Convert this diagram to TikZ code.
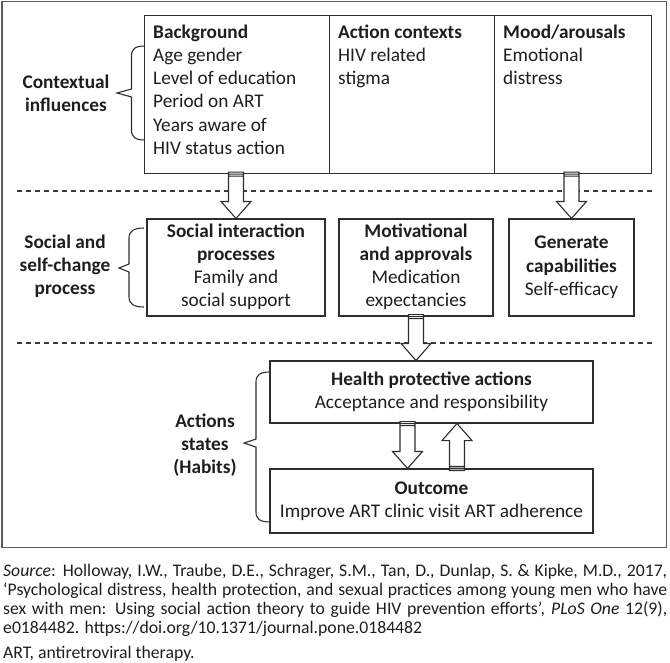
\documentclass[tikz,border=0pt]{standalone}
\usepackage{fontspec}
\setmainfont{Carlito}
\usetikzlibrary{calc}
\definecolor{ink}{HTML}{1E1E1E}
\definecolor{boxc}{HTML}{2E2E2E}
\definecolor{framec}{HTML}{5A5A5A}
\definecolor{dashc}{HTML}{3C3C3C}
% #1 tail point, #2 tip point, #3 = 1 for a downward arrow, -1 for an upward one
\newcommand{\blockarrow}[3]{%
  \draw[arr] let \p1=(#1), \p2=(#2) in
    ({\x1-7.5pt},{\y1+(#3)*2pt}) -- ({\x1-7.5pt},{\y2+(#3)*17pt}) -- ({\x1-15pt},{\y2+(#3)*17pt})
    -- (\x1,\y2) -- ({\x1+15pt},{\y2+(#3)*17pt}) -- ({\x1+7.5pt},{\y2+(#3)*17pt})
    -- ({\x1+7.5pt},{\y1+(#3)*2pt}) -- cycle
    ({\x1-7.5pt},\y1) -- ({\x1+7.5pt},\y1)
    ({\x1-7.5pt},{\y1-(#3)*2pt}) -- ({\x1+7.5pt},{\y1-(#3)*2pt});}
\begin{document}
\begin{tikzpicture}[x=1pt,y=-1pt,
  dtxt/.style={inner sep=0pt, text=ink, font=\fontsize{19.3}{23.2}\selectfont},
  cell/.style={draw=boxc, line width=1.1pt, inner sep=0pt, anchor=north west, minimum height=158pt},
  pbox/.style={draw=boxc, line width=1.1pt, inner sep=0pt, align=center, text=ink, font=\fontsize{19.3}{23.2}\selectfont},
  lab/.style={inner sep=0pt, align=center, text=ink, font=\fontsize{19.3}{23.2}\selectfont\bfseries},
  brace/.style={draw=boxc, line width=1.1pt},
  sep/.style={draw=dashc, line width=1.1pt, dash pattern=on 5pt off 4pt},
  arr/.style={draw=boxc, fill=white, line width=1.1pt, line join=miter},
  captxt/.style={inner sep=0pt, text=ink, font=\fontsize{17.7}{19}\selectfont},
]
\useasboundingbox (0,0) rectangle (670,662);
% frame
\draw[draw=framec, line width=1.3pt] (2,1.5) rectangle (666.5,547.5);
% separators
\draw[sep] (17,191) -- (652,191);
\draw[sep] (17,343) -- (652,343);
% top row
\node[cell, minimum width=185pt] (bg) at (144,15) {};
\node[cell, minimum width=165pt] (ctx) at (329,15) {};
\node[cell, minimum width=157pt] (mood) at (494,15) {};
\node[dtxt, anchor=north west, align=left] (bgt) at (153,21.8)
  {\strut\textbf{Background}\\Age gender\\Level of education\\Period on ART\\Years aware of\\HIV status action};
\node[dtxt, anchor=north west, align=left] (ctxt) at (338,21.8)
  {\strut\textbf{Action contexts}\\HIV related\\stigma};
\node[dtxt, anchor=north west, align=left] (moodt) at (503,21.8)
  {\strut\textbf{Mood/arousals}\\Emotional\\distress};
% second row
\node[pbox, minimum width=178pt, minimum height=97pt] (sip) at (236,267.5)
  {\strut\textbf{Social interaction}\\\textbf{processes}\\Family and\\social support\strut};
\node[pbox, minimum width=154pt, minimum height=97pt] (mot) at (416,267.5)
  {\strut\textbf{Motivational}\\\textbf{and approvals}\\Medication\\expectancies\strut};
\node[pbox, minimum width=125pt, minimum height=97pt] (gen) at (571.5,267.5)
  {\strut\textbf{Generate}\\\textbf{capabilities}\\Self-efficacy\strut};
% third row
\node[pbox, minimum width=323pt, minimum height=62pt] (hpa) at (431.5,392)
  {\strut\textbf{Health protective actions}\\Acceptance and responsibility\strut};
\node[pbox, minimum width=323pt, minimum height=64pt] (out) at (431.5,501)
  {\strut\textbf{Outcome}\\Improve ART clinic visit ART adherence\strut};
% side labels
\node[lab] (ctxl) at (66,95) {\strut Contextual\\influences\strut};
\node[lab] (sscl) at (65,267) {\strut Social and\\self-change\\process\strut};
\node[lab] (asl) at (205,446) {\strut Actions\\states\\(Habits)\strut};
% braces
\draw[brace] (145,46) .. controls (135,46) and (131.5,49) .. (131.5,56) -- (131.5,89) -- (117,93)
  -- (131.5,97) -- (131.5,130) .. controls (131.5,137) and (135,140) .. (145,140);
\draw[brace] (144,228) .. controls (134,228) and (129,231) .. (129,238) -- (129,264) -- (119,268)
  -- (129,272) -- (129,297) .. controls (129,304) and (134,307) .. (144,307);
\draw[brace] (270,372) .. controls (260,372) and (256,375) .. (256,382) -- (256,439) -- (244,443)
  -- (256,447) -- (256,512) .. controls (256,519) and (260,522) .. (270,522);
% block arrows
\blockarrow{sip.north |- bg.south}{sip.north}{1}
\blockarrow{gen.north |- mood.south}{gen.north}{1}
\blockarrow{mot.south}{mot.south |- hpa.north}{1}
\blockarrow{$(hpa.south)+(-24,0)$}{$(out.north)+(-24,0)$}{1}
\blockarrow{$(out.north)+(25.5,0)$}{$(hpa.south)+(25.5,0)$}{-1}
% caption
\node[captxt, anchor=north west, align=left] (src) at (3,563.2)
  {\strut\makebox[664pt][s]{\textit{Source}: Holloway, I.W., Traube, D.E., Schrager, S.M., Tan, D., Dunlap, S. \& Kipke, M.D., 2017,}\\
   \makebox[664pt][s]{‘Psychological distress, health protection, and sexual practices among young men who have}\\
   \makebox[664pt][s]{sex with men: Using social action theory to guide HIV prevention efforts’, \textit{PLoS One} 12(9),}\\
   e0184482. https://doi.org/10.1371/journal.pone.0184482};
\node[captxt, anchor=base west] (abbr) at (3,658.5) {ART, antiretroviral therapy.};
\end{tikzpicture}
\end{document}
